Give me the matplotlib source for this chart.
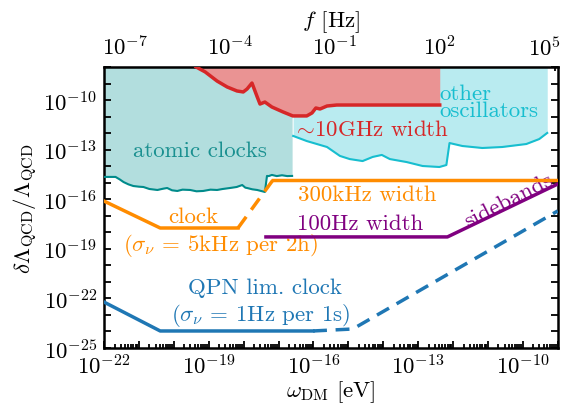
import matplotlib
matplotlib.use('Agg')
import matplotlib.pyplot as plt
import matplotlib.ticker as mticker
import numpy as np

plt.rcParams['mathtext.fontset'] = 'cm'
plt.rcParams['font.family'] = 'serif'
plt.rcParams['font.serif'] = ['cmr10', 'DejaVu Serif']
plt.rcParams['axes.unicode_minus'] = False
plt.rcParams['axes.formatter.use_mathtext'] = True

# Planck constant in eV s, omega [eV] -> f [Hz]
H_EV = 4.135667e-15

# atomic clocks bound (log10 omega, log10 dLambda/Lambda)
atomic_lx = [-22.0, -21.67, -21.55, -21.44, -21.3, -21.16, -21.0, -20.87, -20.7, -20.47,
             -20.3, -20.19, -20.05, -19.9, -19.75, -19.53, -19.35, -19.16, -18.95, -18.76,
             -18.6, -18.39, -18.2, -18.04, -17.95, -17.9, -17.75, -17.61, -17.5, -17.39,
             -17.33, -17.28, -17.19, -17.05, -16.9, -16.75, -16.61]
atomic_ly = [-14.65, -14.65, -14.8, -14.96, -15.1, -15.2, -15.24, -15.26, -15.38, -15.44,
             -15.36, -15.32, -15.46, -15.5, -15.42, -15.44, -15.52, -15.5, -15.42, -15.44,
             -15.38, -15.32, -15.26, -15.14, -15.3, -15.32, -15.4, -15.44, -15.5, -15.56,
             -14.59, -14.6, -14.53, -14.6, -14.55, -14.6, -14.59]

# ~10GHz width (red)
ghz_lx = [-19.36, -19.10, -18.76, -18.47, -18.19, -18.01, -17.90, -17.76, -17.61, -17.53,
          -17.39, -17.19, -16.87, -16.59, -16.19, -16.04, -15.93, -15.81, -15.61, -15.33, -12.38]
ghz_ly = [-8.0, -8.30, -8.85, -9.21, -9.45, -9.51, -9.33, -8.97, -9.81, -10.24,
          -10.12, -10.42, -10.72, -10.96, -10.96, -10.78, -10.48, -10.54, -10.36, -10.30, -10.30]

# other oscillators (cyan)
osc_lx = [-16.58, -16.19, -15.61, -15.24, -14.96, -14.59, -14.30, -14.04, -13.81, -13.33,
          -12.87, -12.39, -12.19, -12.10, -11.73, -11.16, -10.59, -9.90, -9.53, -9.30]
osc_ly = [-12.17, -12.48, -12.84, -13.38, -13.57, -13.69, -13.44, -13.32, -13.57, -13.75,
          -13.99, -14.05, -13.93, -12.60, -12.78, -12.90, -12.84, -12.66, -12.36, -11.99]

# clock with 5kHz per 2h (orange): solid, dashed, 300kHz width solid
clock_lx = [-22.0, -20.39, -18.16]
clock_ly = [-16.11, -17.74, -17.74]
clock_dash_lx = [-18.16, -17.16]
clock_dash_ly = [-17.74, -14.84]
khz_lx = [-17.16, -9.0]
khz_ly = [-14.84, -14.84]

# 100Hz width + sidebands (purple)
hz_lx = [-17.36, -12.16, -9.0]
hz_ly = [-18.28, -18.28, -15.08]

# QPN limited clock (blue)
qpn_lx = [-22.0, -20.39, -16.01]
qpn_ly = [-22.22, -23.97, -23.97]
qpn_dash_lx = [-16.01, -14.87, -9.0]
qpn_dash_ly = [-23.97, -23.85, -16.71]


def p(v):
    return 10.0 ** np.array(v)


fig = plt.figure(figsize=(5.63, 4.10), dpi=100)
ax = fig.add_axes([104 / 563, 1 - 349 / 410, 453.7 / 563, 281 / 410])
ax.set_xscale('log')
ax.set_yscale('log')
ymax = 1e-8

# filled regions
ax.fill_between(p(atomic_lx), p(atomic_ly), ymax, color='#b2dede', lw=0, zorder=1)
ax.fill_between(p(osc_lx), p(osc_ly), ymax, color='#b9ebf0', lw=0, zorder=1)
ax.fill_between(p(ghz_lx), p(ghz_ly), ymax, color='#ea9393', lw=0, zorder=2)

ax.plot(p(atomic_lx), p(atomic_ly), color='#008b8b', lw=1.5, zorder=3)
ax.plot(p(osc_lx), p(osc_ly), color='#17becf', lw=1.5, zorder=3)
ax.plot(p(ghz_lx), p(ghz_ly), color='#d62728', lw=2.5, zorder=3)

orange = '#ff8c00'
ax.plot(p(clock_lx), p(clock_ly), color=orange, lw=2.5, zorder=4)
ax.plot(p(clock_dash_lx), p(clock_dash_ly), color=orange, lw=2.5, ls=(0, (4, 2.5)), zorder=4)
ax.plot(p(khz_lx), p(khz_ly), color=orange, lw=2.5, zorder=4)
ax.plot(p(hz_lx), p(hz_ly), color='purple', lw=2.5, zorder=4)
blue = '#1f77b4'
ax.plot(p(qpn_lx), p(qpn_ly), color=blue, lw=2.5, zorder=4)
ax.plot(p(qpn_dash_lx), p(qpn_dash_ly), color=blue, lw=2.5, ls=(0, (4, 2.5)), zorder=4)

ax.set_xlim(1e-22, 1e-9)
ax.set_ylim(1e-25, ymax)

fs = 16.5
afs = 16.5


def lab(v, pos):
    e = int(round(np.log10(v)))
    return r'$10^{%d}$' % e if e % 3 == 2 else ''


ax.xaxis.set_major_locator(mticker.FixedLocator(p(np.arange(-22, -8))))
ax.xaxis.set_major_formatter(mticker.FuncFormatter(lab))
ax.xaxis.set_minor_locator(mticker.LogLocator(base=10, subs=np.arange(2, 10), numticks=100))
ax.xaxis.set_minor_formatter(mticker.NullFormatter())
ax.yaxis.set_major_locator(mticker.FixedLocator(p(np.arange(-25, -7))))
ax.yaxis.set_major_formatter(mticker.FuncFormatter(lab))
ax.yaxis.set_minor_locator(mticker.NullLocator())
ax.tick_params(which='both', direction='in', top=False, right=True, labelsize=fs, width=1.3)
ax.tick_params(which='major', length=5, pad=5)
ax.tick_params(which='minor', length=3)
ax.tick_params(axis='x', pad=4)
for s in ax.spines.values():
    s.set_linewidth(1.8)

sec = ax.secondary_xaxis('top', functions=(lambda w: w / H_EV, lambda f: f * H_EV))
sec.xaxis.set_major_locator(mticker.FixedLocator(p(np.arange(-8, 6))))
sec.xaxis.set_major_formatter(mticker.FuncFormatter(lab))
sec.xaxis.set_minor_locator(mticker.LogLocator(base=10, subs=np.arange(2, 10), numticks=100))
sec.xaxis.set_minor_formatter(mticker.NullFormatter())
sec.tick_params(which='both', direction='in', labelsize=fs, width=1.3)
sec.tick_params(which='major', length=5, pad=6)
sec.tick_params(which='minor', length=3)
sec.set_xlabel(r'$f$ [Hz]', fontsize=fs, labelpad=6)

ax.set_xlabel(r'$\omega_{\rm DM}$ [eV]', fontsize=fs, labelpad=0)
ax.set_ylabel(r'$\delta\Lambda_{\rm QCD}/\Lambda_{\rm QCD}$', fontsize=fs, labelpad=2)

# annotations
ax.text(p(-19.25), p(-13.05), 'atomic clocks', color='#1a9090', fontsize=afs, ha='center', va='center')
ax.text(p(-14.35), p(-11.75), r'$\sim\!$10GHz width', color='#d62728', fontsize=afs,
        ha='center', va='center')
ax.text(p(-12.38), p(-10.1), 'other\noscillators', color='#17becf', fontsize=afs, ha='left',
        va='center', linespacing=0.85)
ax.text(p(-14.45), p(-15.7), '300kHz width', color=orange, fontsize=afs, ha='center', va='center')
ax.text(p(-14.65), p(-17.45), '100Hz width', color='purple', fontsize=afs, ha='center', va='center')
ax.text(p(-10.4), p(-16.05), 'sidebands', color='purple', fontsize=afs, ha='center', va='center',
        rotation=27)
ax.text(p(-19.45), p(-17.0), 'clock', color=orange, fontsize=afs, ha='center', va='center')
ax.text(p(-18.65), p(-18.75), r'($\sigma_\nu$ = 5kHz per 2h)', color=orange, fontsize=afs,
        ha='center', va='center')
ax.text(p(-17.4), p(-21.3), 'QPN lim. clock', color=blue, fontsize=afs, ha='center', va='center')
ax.text(p(-17.5), p(-23.0), r'($\sigma_\nu$ = 1Hz per 1s)', color=blue, fontsize=afs,
        ha='center', va='center')

fig.savefig('out.png', dpi=100)
